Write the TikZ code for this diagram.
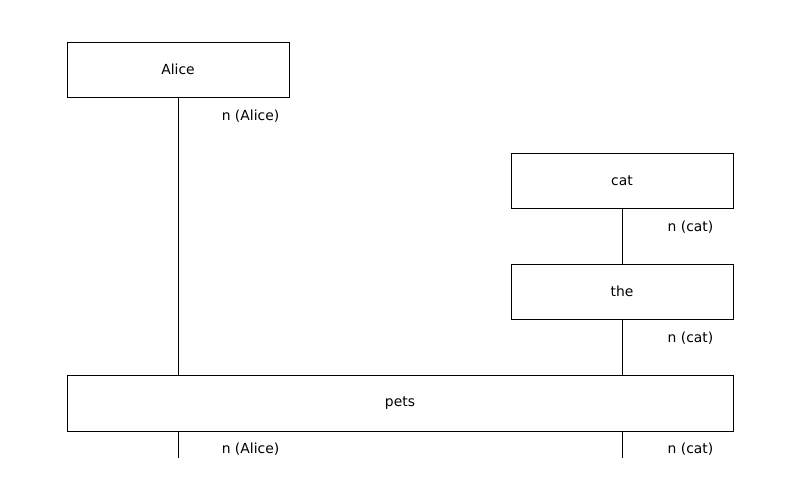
\documentclass[tikz,border=0pt]{standalone}
\usepackage{fontspec}
\setmainfont{DejaVu Sans}
\begin{document}
\begin{tikzpicture}[x=0.72pt,y=-0.72pt,
  boxnode/.style={draw,line width=0.72pt,minimum width=222*0.72pt,minimum height=55*0.72pt,inner sep=0pt,font=\fontsize{10}{12}\selectfont},
  widebox/.style={boxnode,minimum width=666*0.72pt,minimum height=56*0.72pt},
  wirelab/.style={font=\fontsize{10}{12}\selectfont,inner sep=0pt},
  wire/.style={line width=0.72pt}]
\useasboundingbox (0,0) rectangle (800,500);
\node[boxnode] (alice) at (178,69.5) {Alice};
\node[boxnode] (cat) at (622,180.5) {cat};
\node[boxnode] (the) at (622,291.5) {the};
\node[widebox] (pets) at (400,403) {pets};
\coordinate (endA) at (178,458);
\coordinate (endC) at (622,458);
\draw[wire] (alice.south -| endA) -- (pets.north -| endA);
\draw[wire] (cat) -- (the);
\draw[wire] (the.south) -- (pets.north -| endC);
\draw[wire] (pets.south -| endA) -- (endA);
\draw[wire] (pets.south -| endC) -- (endC);
\node[wirelab] (l1) at (250.5,116) {n (Alice)};
\node[wirelab] (l2) at (690.5,227) {n (cat)};
\node[wirelab] (l3) at (690.5,338) {n (cat)};
\node[wirelab] (l4) at (250.5,449) {n (Alice)};
\node[wirelab] (l5) at (690.5,449) {n (cat)};
\end{tikzpicture}
\end{document}
